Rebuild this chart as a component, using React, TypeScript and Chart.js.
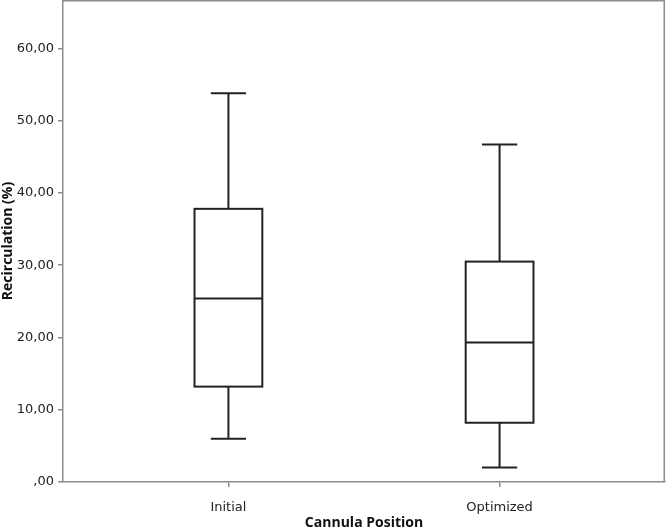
import React, { useEffect, useRef } from "react";
import { Chart, registerables } from "chart.js";

Chart.register(...registerables);

const categories = ["Initial", "Optimized"];
const whiskerLow = [6, 2];
const q1 = [13.2, 8.2];
const median = [25.4, 19.3];
const q3 = [37.8, 30.5];
const whiskerHigh = [53.8, 46.7];
const yTicks = [0, 10, 20, 30, 40, 50, 60];

const FONT = "'DejaVu Sans', sans-serif";
const TITLE_FONT = "'Open Sans', sans-serif";

const boxPlugin = {
  id: "boxplotDraw",
  afterDatasetsDraw(chart: any) {
    const { ctx, chartArea, scales } = chart;
    const xs = scales.x;
    const ys = scales.y;
    ctx.save();
    ctx.strokeStyle = "#8c8c8c";
    ctx.lineWidth = 1.5;
    ctx.beginPath();
    ctx.moveTo(chartArea.left, chartArea.top + 0.75);
    ctx.lineTo(chartArea.right - 0.75, chartArea.top + 0.75);
    ctx.lineTo(chartArea.right - 0.75, chartArea.bottom);
    ctx.stroke();
    ctx.restore();

    ctx.save();
    ctx.strokeStyle = "#222";
    ctx.lineWidth = 2;
    const unit = xs.getPixelForValue(2) - xs.getPixelForValue(1);
    const halfBox = unit * 0.125;
    const halfCap = unit * 0.065;
    categories.forEach((_, i) => {
      const cx = xs.getPixelForValue(i + 1);
      const yLo = ys.getPixelForValue(whiskerLow[i]);
      const yQ1 = ys.getPixelForValue(q1[i]);
      const yMed = ys.getPixelForValue(median[i]);
      const yQ3 = ys.getPixelForValue(q3[i]);
      const yHi = ys.getPixelForValue(whiskerHigh[i]);
      ctx.beginPath();
      ctx.moveTo(cx, yHi);
      ctx.lineTo(cx, yQ3);
      ctx.moveTo(cx, yQ1);
      ctx.lineTo(cx, yLo);
      ctx.moveTo(cx - halfCap, yHi);
      ctx.lineTo(cx + halfCap, yHi);
      ctx.moveTo(cx - halfCap, yLo);
      ctx.lineTo(cx + halfCap, yLo);
      ctx.moveTo(cx - halfBox, yMed);
      ctx.lineTo(cx + halfBox, yMed);
      ctx.stroke();
      ctx.strokeRect(cx - halfBox, yQ3, halfBox * 2, yQ1 - yQ3);
    });
    ctx.restore();
  },
};

export default function App() {
  const ref = useRef<HTMLCanvasElement | null>(null);
  useEffect(() => {
    document.body.style.margin = "0";
    if (!ref.current) return;
    const chart = new Chart(ref.current, {
      type: "scatter",
      data: {
        datasets: [
          {
            data: categories.map((_, i) => ({ x: i + 1, y: median[i] })),
            pointRadius: 0,
            showLine: false,
          },
        ],
      },
      options: {
        animation: false,
        responsive: false,
        maintainAspectRatio: false,
        layout: { padding: { top: 0, right: 1, left: 0, bottom: 0 } },
        plugins: { legend: { display: false }, tooltip: { enabled: false } },
        scales: {
          x: {
            type: "linear",
            min: 0.39,
            max: 2.61,
            afterBuildTicks: (axis: any) => {
              axis.ticks = categories.map((_, i) => ({ value: i + 1 }));
            },
            afterFit: (axis: any) => {
              axis.height = 49;
              axis.paddingLeft = 0;
              axis.paddingRight = 0;
            },
            ticks: {
              callback: (v: any) => categories[Number(v) - 1] ?? "",
              font: { family: FONT, size: 13 },
              color: "#222",
              padding: 13,
              maxRotation: 0,
              autoSkip: false,
            },
            grid: { drawOnChartArea: false, drawTicks: true, tickLength: 5, color: "#8c8c8c", lineWidth: 1.5 },
            border: { display: true, color: "#8c8c8c", width: 1.5 },
            title: {
              display: true,
              text: "Cannula Position",
              font: { family: TITLE_FONT, size: 14, weight: "bold" },
              color: "#111",
              padding: { top: 0, bottom: 0 },
            },
          },
          y: {
            type: "linear",
            min: 0,
            max: 66.7,
            afterBuildTicks: (axis: any) => {
              axis.ticks = yTicks.map((v) => ({ value: v }));
            },
            afterFit: (axis: any) => {
              axis.width = 63;
              axis.paddingTop = 0;
              axis.paddingBottom = 0;
            },
            ticks: {
              callback: (v: any) => (Number(v) === 0 ? ",00" : Number(v).toFixed(2).replace(".", ",")),
              font: { family: FONT, size: 13 },
              color: "#222",
              padding: 4,
            },
            grid: { drawOnChartArea: false, drawTicks: true, tickLength: 5, color: "#8c8c8c", lineWidth: 1.5 },
            border: { display: true, color: "#8c8c8c", width: 1.5 },
            title: {
              display: true,
              text: "Recirculation (%)",
              font: { family: TITLE_FONT, size: 14, weight: "bold" },
              color: "#111",
              padding: { top: 0, bottom: 0 },
            },
          },
        },
      },
      plugins: [boxPlugin],
    });
    return () => chart.destroy();
  }, []);
  return (
    <div style={{ position: "fixed", left: 0, top: 0, width: 666, height: 531, background: "#fff" }}>
      <canvas ref={ref} width={666} height={531} style={{ width: 666, height: 531 }} />
    </div>
  );
}
